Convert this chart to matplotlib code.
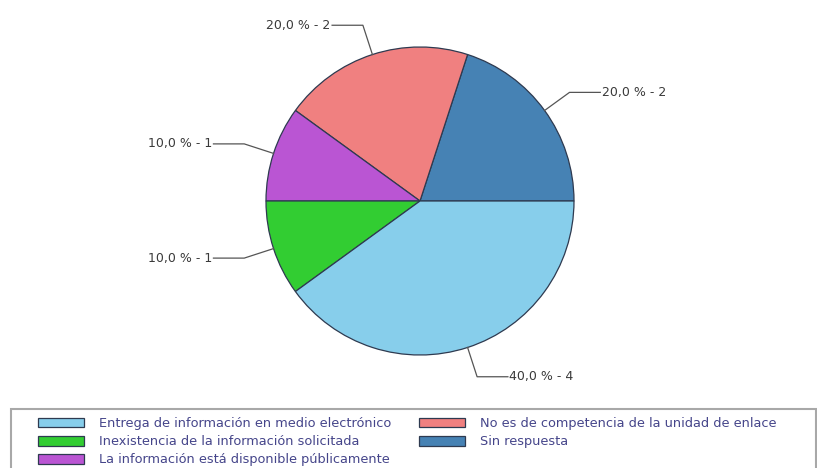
import numpy as np
import matplotlib
matplotlib.use('Agg')
import matplotlib.pyplot as plt
from matplotlib.patches import Rectangle

# datos (orden del pastel: antihorario desde las 3 en punto)
categorias = ['Sin respuesta',
              'No es de competencia de la unidad de enlace',
              'La información está disponible públicamente',
              'Inexistencia de la información solicitada',
              'Entrega de información en medio electrónico']
conteos = [2, 2, 1, 1, 4]
colores = ['#4682b4', '#f08080', '#ba55d3', '#32cd32', '#87ceeb']
orden_leyenda = [4, 3, 2, 1, 0]

W, H = 817, 468
fig = plt.figure(figsize=(W / 100, H / 100), dpi=100)

# pie centre / radius in pixels
cx, cy, r = 420, 201, 154
ax = fig.add_axes([(cx - r) / W, (H - cy - r) / H, 2 * r / W, 2 * r / H])
wedges, _ = ax.pie(conteos, colors=colores, startangle=0, counterclock=True,
                   radius=1, wedgeprops=dict(edgecolor='#2e3a50', linewidth=0.9))
ax.set_xlim(-1, 1)
ax.set_ylim(-1, 1)
ax.axis('off')

total = float(sum(conteos))
for w, n in zip(wedges, conteos):
    ang = np.deg2rad((w.theta1 + w.theta2) / 2.0)
    x0, y0 = np.cos(ang), np.sin(ang)
    x1, y1 = 1.2 * x0, 1.2 * y0
    s = 1 if x0 >= 0 else -1
    x2 = x1 + s * 0.2
    ax.plot([x0, x1, x2], [y0, y1, y1], color='#555555', lw=0.9, clip_on=False)
    etiqueta = ('%.1f %% - %d' % (100 * n / total, n)).replace('.', ',')
    ax.text(x2 + s * 0.01, y1, etiqueta, ha='left' if s > 0 else 'right',
            va='center', fontsize=9, color='#3a3a3a')

# legend frame at the bottom
fig.patches.append(Rectangle((11 / W, -0.02), (816 - 11) / W, (468 - 409) / H + 0.02,
                             transform=fig.transFigure, fill=False,
                             edgecolor='#a8a8a8', lw=1.5))

leg = fig.legend(handles=[wedges[i] for i in orden_leyenda],
                 labels=[categorias[i] for i in orden_leyenda],
                 ncol=2, loc='upper left', bbox_to_anchor=(38 / W, 1 - 417 / H),
                 frameon=False, fontsize=9.3, borderpad=0, borderaxespad=0,
                 handlelength=3.55, handleheight=0.78, handletextpad=1.15,
                 columnspacing=2.2, labelspacing=0.4, labelcolor='#45458a')

fig.savefig('out.png', dpi=100)
